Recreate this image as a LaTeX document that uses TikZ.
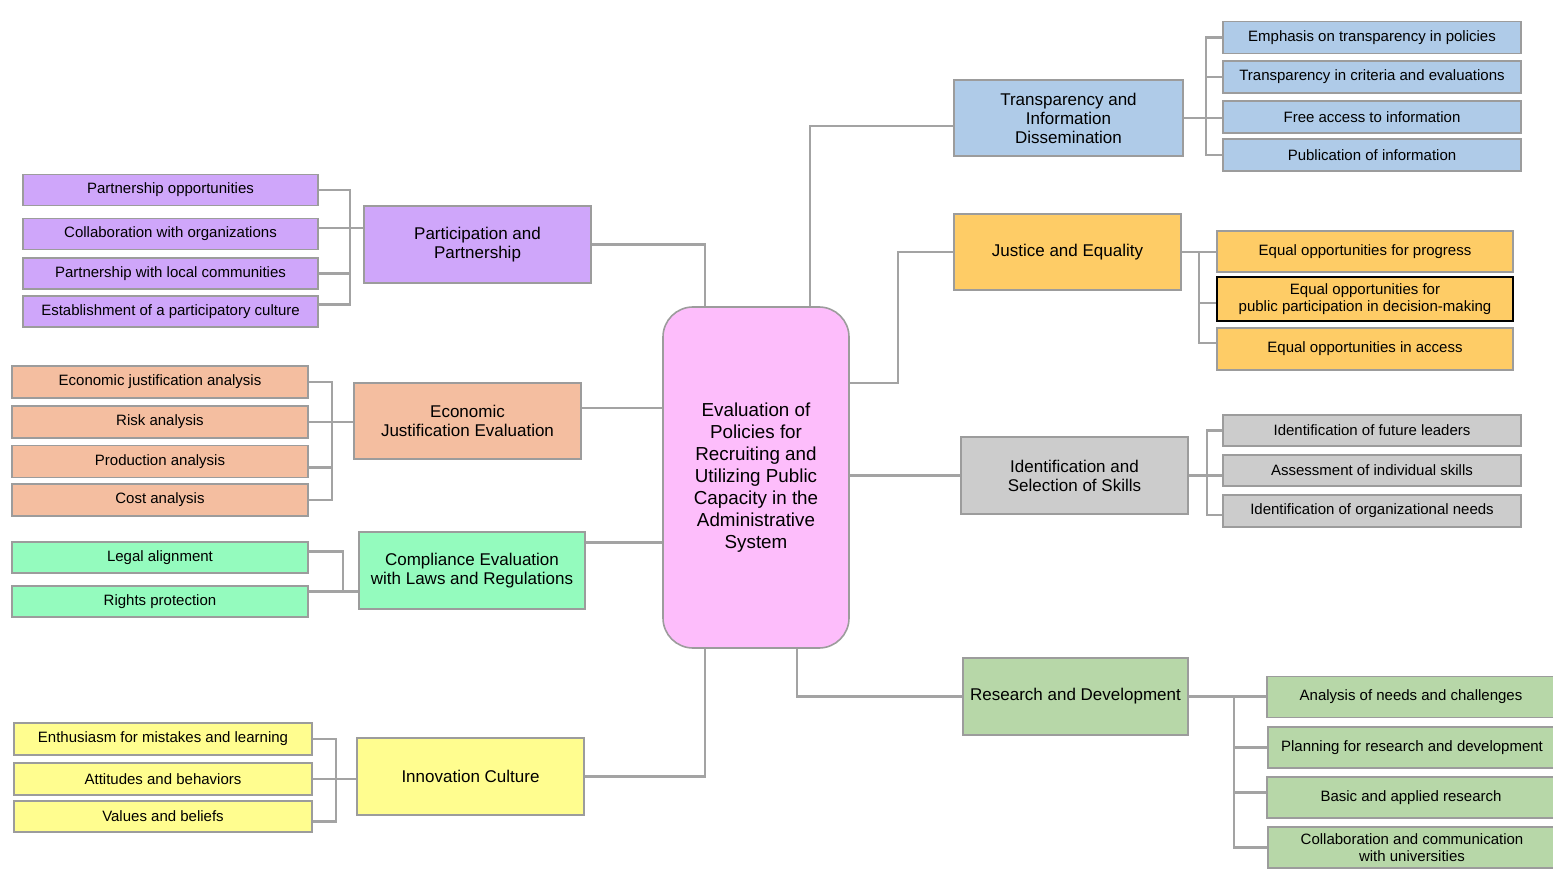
\documentclass[tikz,border=0pt]{standalone}
\usepackage{fontspec}
\setmainfont{Liberation Sans}

\definecolor{ppfill}{HTML}{CFA6FA}
\definecolor{ejfill}{HTML}{F4BEA0}
\definecolor{clfill}{HTML}{94FBBE}
\definecolor{icfill}{HTML}{FFFD8F}
\definecolor{cenfill}{HTML}{FDBDFB}
\definecolor{tifill}{HTML}{AFCBE8}
\definecolor{jefill}{HTML}{FECC66}
\definecolor{skfill}{HTML}{CCCCCC}
\definecolor{rdfill}{HTML}{B7D7A8}
\definecolor{edgegray}{HTML}{9C9C9C}
\definecolor{linegray}{HTML}{A3A3A3}

\tikzset{
    box/.style={draw=edgegray, line width=1.6pt, rectangle, inner sep=0pt, align=center},
    leaf/.style={box, minimum width=296, minimum height=32, font=\fontsize{15}{17}\selectfont},
    branch/.style={box, minimum width=227, minimum height=77, font=\fontsize{17}{19}\selectfont},
    conn/.style={draw=linegray, line width=2.2pt},
}

\begin{document}
\begin{tikzpicture}[x=1pt,y=-1pt]
        \useasboundingbox (0,0) rectangle (1553,893);

        % centro
        \node[box, fill=cenfill, rounded corners=30, minimum width=186, minimum height=341,
              font=\fontsize{18.8}{22}\selectfont] (cen) at (756,477.5)
              {Evaluation of\\Policies for\\Recruiting and\\Utilizing Public\\Capacity in the\\Administrative\\System};

        % ramas izquierda
        \node[branch, fill=ppfill] (pp) at (477.5,244.5) {Participation and\\Partnership};
        \node[branch, fill=ejfill, minimum height=76] (ej) at (467.5,421) {Economic\\Justification Evaluation};
        \node[branch, fill=clfill, minimum width=226] (cl) at (472,570.5) {Compliance Evaluation\\with Laws and Regulations};
        \node[branch, fill=icfill] (ic) at (470.5,776.5) {Innovation Culture};

        % ramas derecha
        \node[branch, fill=tifill, minimum width=229, minimum height=76] (ti) at (1068.5,118) {Transparency and\\Information\\Dissemination};
        \node[branch, fill=jefill, minimum height=76] (je) at (1067.5,252) {Justice and Equality};
        \node[branch, fill=skfill] (sk) at (1074.5,475.5) {Identification and\\Selection of Skills};
        \node[branch, fill=rdfill, minimum width=225] (rd) at (1075.5,696.5) {Research and Development};

        % hojas
        \node[leaf, fill=ppfill, minimum width=295, minimum height=31] (pp1) at (170.5,190) {Partnership opportunities};
        \node[leaf, fill=ppfill, minimum width=295, minimum height=31] (pp2) at (170.5,234) {Collaboration with organizations};
        \node[leaf, fill=ppfill, minimum width=295, minimum height=31] (pp3) at (170.5,273.5) {Partnership with local communities};
        \node[leaf, fill=ppfill, minimum width=295, minimum height=31] (pp4) at (170.5,311.5) {Establishment of a participatory culture};

        \node[leaf, fill=ejfill] (ej1) at (160,382) {Economic justification analysis};
        \node[leaf, fill=ejfill] (ej2) at (160,422) {Risk analysis};
        \node[leaf, fill=ejfill] (ej3) at (160,461.5) {Production analysis};
        \node[leaf, fill=ejfill] (ej4) at (160,500) {Cost analysis};

        \node[leaf, fill=clfill, minimum height=31] (cl1) at (160,557.5) {Legal alignment};
        \node[leaf, fill=clfill, minimum height=31] (cl2) at (160,601.5) {Rights protection};

        \node[leaf, fill=icfill, minimum width=298] (ic1) at (163,739) {Enthusiasm for mistakes and learning};
        \node[leaf, fill=icfill, minimum width=298] (ic2) at (163,779) {Attitudes and behaviors};
        \node[leaf, fill=icfill, minimum width=298, minimum height=31] (ic3) at (163,816.5) {Values and beliefs};

        \node[leaf, fill=tifill, minimum width=298] (ti1) at (1372,37.5) {Emphasis on transparency in policies};
        \node[leaf, fill=tifill, minimum width=298] (ti2) at (1372,77) {Transparency in criteria and evaluations};
        \node[leaf, fill=tifill, minimum width=298] (ti3) at (1372,117) {Free access to information};
        \node[leaf, fill=tifill, minimum width=298] (ti4) at (1372,155) {Publication of information};

        \node[leaf, fill=jefill, minimum height=41] (je1) at (1365,251.5) {Equal opportunities for progress};
        \node[leaf, fill=jefill, minimum height=44, draw=black] (je2) at (1365,299) {Equal opportunities for\\public participation in decision-making};
        \node[leaf, fill=jefill, minimum height=42] (je3) at (1365,349) {Equal opportunities in access};

        \node[leaf, fill=skfill, minimum width=298, minimum height=31] (sk1) at (1372,430.5) {Identification of future leaders};
        \node[leaf, fill=skfill, minimum width=298, minimum height=31] (sk2) at (1372,470.5) {Assessment of individual skills};
        \node[leaf, fill=skfill, minimum width=298] (sk3) at (1372,511) {Identification of organizational needs};

        \node[leaf, fill=rdfill, minimum width=288, minimum height=41] (rd1) at (1411,697) {Analysis of needs and challenges};
        \node[leaf, fill=rdfill, minimum width=288, minimum height=41] (rd2) at (1412,747.5) {Planning for research and development};
        \node[leaf, fill=rdfill, minimum width=288, minimum height=41] (rd3) at (1411,797.5) {Basic and applied research};
        \node[leaf, fill=rdfill, minimum width=288, minimum height=41] (rd4) at (1412,847.5) {Collaboration and communication\\with universities};

        % barras verticales
        \coordinate (ppbus) at (350,0);
        \coordinate (ejbus) at (332,0);
        \coordinate (clbus) at (343,0);
        \coordinate (icbus) at (336,0);
        \coordinate (tibus) at (1206,0);
        \coordinate (jebus) at (1199,0);
        \coordinate (skbus) at (1207,0);
        \coordinate (rdbus) at (1234,0);
        \coordinate (jebend) at (898,0);

        % centro a ramas
        \draw[conn] (pp.east) -| ([xshift=-51]cen.north);
        \draw[conn] ([yshift=13]ej.east) -- ([yshift=13]ej.east -| cen.west);
        \draw[conn] ([yshift=28]cl.east) -- ([yshift=28]cl.east -| cen.west);
        \draw[conn] (ic.east) -| ([xshift=-51]cen.south);
        \draw[conn] ([xshift=54]cen.north) |- ([yshift=-8]ti.west);
        \draw[conn] ([yshift=94.5]cen.east) -| (jebend |- je.west) -- (je.west);
        \draw[conn] (sk.west -| cen.east) -- (sk.west);
        \draw[conn] ([xshift=41]cen.south) |- (rd.west);

        % ramas a hojas
        \draw[conn] (pp1.east) -- (pp1.east -| ppbus) -- ([yshift=7]pp4.east -| ppbus) -- ([yshift=7]pp4.east);
        \draw[conn] (pp3.east) -- (pp3.east -| ppbus);
        \draw[conn] ([yshift=6]pp2.east) -- ([yshift=6]pp2.east -| pp.west);

        \draw[conn] (ej1.east) -- (ej1.east -| ejbus) -- (ej4.east -| ejbus) -- (ej4.east);
        \draw[conn] ([yshift=-6]ej3.east) -- ([yshift=-6]ej3.east -| ejbus);
        \draw[conn] (ej2.east) -- (ej2.east -| ej.west);

        \draw[conn] ([yshift=6]cl1.east) -- ([yshift=6]cl1.east -| clbus) -- ([yshift=10]cl2.east -| clbus);
        \draw[conn] ([yshift=10]cl2.east) -- ([yshift=10]cl2.east -| cl.west);

        \draw[conn] (ic1.east) -- (ic1.east -| icbus) -- ([yshift=-5]ic3.east -| icbus) -- ([yshift=-5]ic3.east);
        \draw[conn] (ic2.east) -- (ic2.east -| ic.west);

        \draw[conn] (ti1.west) -- (ti1.west -| tibus) -- (ti4.west -| tibus) -- (ti4.west);
        \draw[conn] (ti2.west) -- (ti2.west -| tibus);
        \draw[conn] (ti.east) -- (ti.east -| ti3.west);

        \draw[conn] (je.east) -- (je.east -| je1.west);
        \draw[conn] (je.east -| jebus) -- ([yshift=6]je3.west -| jebus) -- ([yshift=6]je3.west);
        \draw[conn] ([yshift=-4]je2.west -| jebus) -- ([yshift=-4]je2.west);

        \draw[conn] (sk1.west) -- (sk1.west -| skbus) -- ([yshift=-4]sk3.west -| skbus) -- ([yshift=-4]sk3.west);
        \draw[conn] (sk.east) -- (sk.east -| sk2.west);

        \draw[conn] (rd.east) -- (rd.east -| rd1.west);
        \draw[conn] (rd1.west -| rdbus) -- (rd4.west -| rdbus) -- (rd4.west);
        \draw[conn] (rd2.west -| rdbus) -- (rd2.west);
        \draw[conn] ([yshift=5]rd3.west -| rdbus) -- ([yshift=5]rd3.west);
    \end{tikzpicture}
\end{document}
